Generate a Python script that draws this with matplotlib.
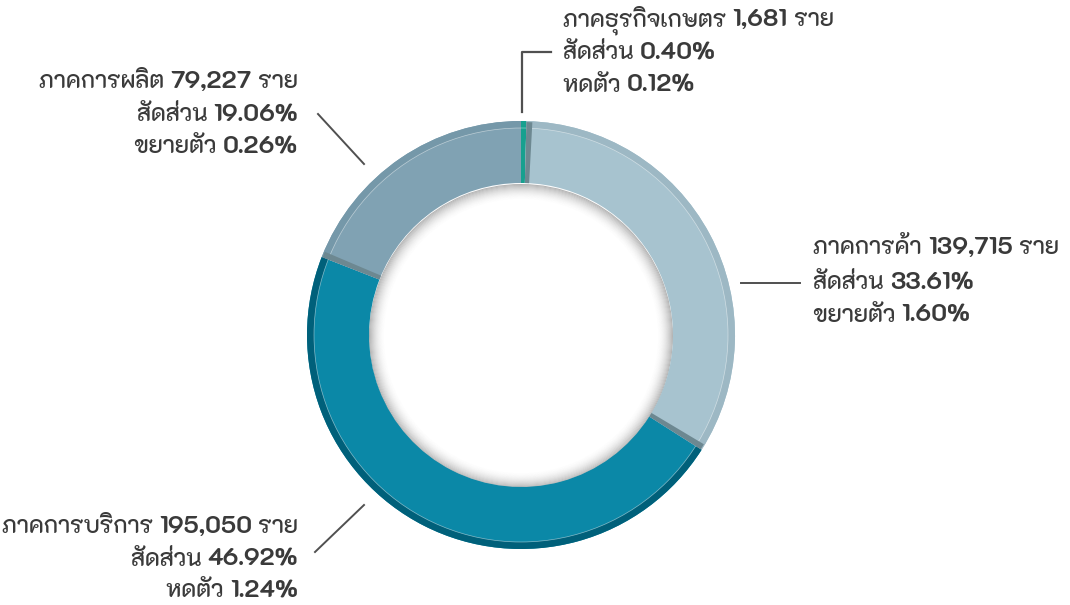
import numpy as np
import matplotlib
matplotlib.use("Agg")
import matplotlib.pyplot as plt
from matplotlib.patches import Wedge
from matplotlib.offsetbox import TextArea, HPacker, AnnotationBbox

# data (clockwise from the top)
sectors = ["ภาคธุรกิจเกษตร", "ภาคการค้า", "ภาคการบริการ", "ภาคการผลิต"]
counts = [1681, 139715, 195050, 79227]
shares = [0.40, 33.61, 46.92, 19.06]
growth_words = ["หดตัว", "ขยายตัว", "หดตัว", "ขยายตัว"]
growth = [0.12, 1.60, 1.24, 0.26]

colors = ["#17a08f", "#a7c3cf", "#0b88a7", "#80a2b3"]
rim_colors = ["#17a08f", "#9db8c4", "#00607a", "#7598a9"]
side_color = "#6d8891"
txt_color = "#3a3a3a"
FONT = ["K2D", "DejaVu Sans"]

W, H = 1070, 605
fig = plt.figure(figsize=(W / 100, H / 100), dpi=100)
ax = fig.add_axes([0, 0, 1, 1])
ax.set_xlim(0, W)
ax.set_ylim(0, H)
ax.set_aspect("equal")
ax.axis("off")

cx, cy = 521, H - 335
r_out, r_in = 214, 152

# soft inner shadow inside the hole
n_sh = 16
for k in range(n_sh):
    a = 0.5 * (1 - k / n_sh) ** 2
    ax.add_patch(Wedge((cx, cy - 1), r_in - k, 0, 360, width=1.0,
                       color="#6a6a6a", alpha=a, lw=0, zorder=1))

# main ring
ax.pie(counts, colors=colors, startangle=90, counterclock=False,
       radius=r_out, center=(cx, cy),
       wedgeprops=dict(width=r_out - r_in, linewidth=0), frame=True)
# outer rim (bevel)
ax.pie(counts, colors=rim_colors, startangle=90, counterclock=False,
       radius=r_out, center=(cx, cy),
       wedgeprops=dict(width=7, linewidth=0), frame=True)
ax.add_patch(plt.Circle((cx, cy), r_out - 7, fill=False, ec="white", lw=0.5, alpha=0.5, zorder=3))

# side faces of the slices
total = float(sum(counts))
bounds = 90 - 360 * np.cumsum([0] + counts) / total
for a1, a2 in [(bounds[1] - 1.6, bounds[1]),
               (bounds[2], bounds[2] + 1.6),
               (bounds[3] - 1.6, bounds[3])]:
    ax.add_patch(Wedge((cx, cy), r_out - 1, a1, a2, width=r_out - r_in - 1,
                       color=side_color, lw=0, zorder=4))
ax.set_xlim(0, W)
ax.set_ylim(0, H)


def put_line(parts, x, y, ha):
    boxes = []
    for s, bold in parts:
        boxes.append(TextArea(s, textprops=dict(fontsize=17.3, color=txt_color, family=FONT,
                                                weight="bold" if bold else 500)))
    row = HPacker(children=boxes, align="baseline", pad=0, sep=0)
    ab = AnnotationBbox(row, (x, H - y), xycoords="data", frameon=False,
                        box_alignment=(0 if ha == "left" else 1, 0.5), pad=0)
    ax.add_artist(ab)


label_pos = [(563, [20, 53, 86], "left"),
             (813, [248, 283, 316], "left"),
             (298, [527, 560, 591], "right"),
             (298, [82, 115, 147], "right")]
for i, (x, ys, ha) in enumerate(label_pos):
    put_line([(sectors[i] + " ", False), (f"{counts[i]:,}", True), (" ราย", False)], x, ys[0], ha)
    put_line([("สัดส่วน ", False), (f"{shares[i]:.2f}%", True)], x, ys[1], ha)
    put_line([(growth_words[i] + " ", False), (f"{growth[i]:.2f}%", True)], x, ys[2], ha)

# leader lines
lc = "#505050"
ax.plot([522, 522, 551], [H - 112, H - 52, H - 52], color=lc, lw=1.6)
ax.plot([741, 800], [H - 283, H - 283], color=lc, lw=1.4)
ax.plot([315, 364], [H - 552, H - 505], color=lc, lw=1.4)
ax.plot([318, 364], [H - 114, H - 164], color=lc, lw=1.4)

fig.savefig("out.png", dpi=100, facecolor="white")
